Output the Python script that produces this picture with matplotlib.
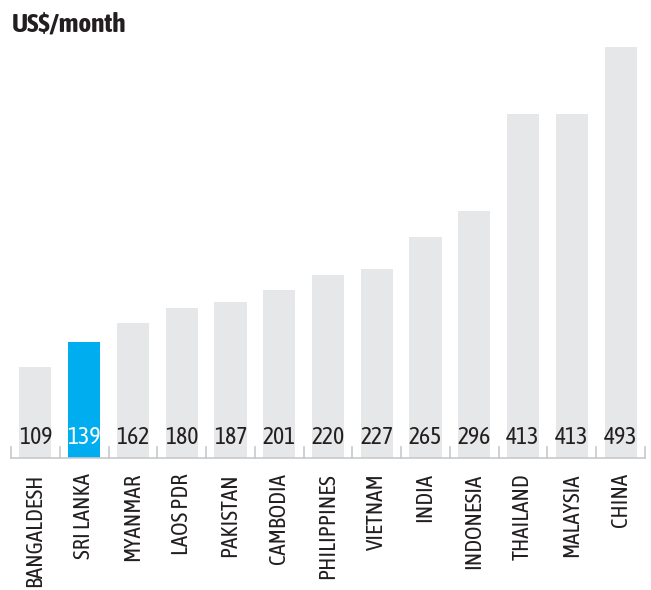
import matplotlib
matplotlib.use("Agg")
import matplotlib.pyplot as plt
import numpy as np

countries = ["BANGALDESH", "SRI LANKA", "MYANMAR", "LAOS PDR", "PAKISTAN", "CAMBODIA",
             "PHILIPPINES", "VIETNAM", "INDIA", "INDONESIA", "THAILAND", "MALAYSIA", "CHINA"]
values = [109, 139, 162, 180, 187, 201, 220, 227, 265, 296, 413, 413, 493]
highlight = "SRI LANKA"

FONT = ['Asap Condensed', 'DejaVu Sans']
plt.rcParams['font.family'] = FONT

fig = plt.figure(figsize=(6.51, 5.9), dpi=100)
ax = fig.add_axes([11/651, (590-458)/590, (645-11)/651, (458-47)/590])

x = np.arange(len(countries))
colors = ["#00aeef" if c == highlight else "#e6e7e8" for c in countries]
ax.bar(x, values, width=0.66, color=colors, zorder=2)

ax.set_xlim(-0.5, len(countries) - 0.5)
ax.set_ylim(0, max(values))

for xi, v, c in zip(x, values, countries):
    ax.text(xi, 25, str(v), ha="center", va="center", fontsize=17,
            color="white" if c == highlight else "#231f20", zorder=3)

for s in ["top", "right", "left"]:
    ax.spines[s].set_visible(False)
ax.spines["bottom"].set_color("#c8c9cb")
ax.spines["bottom"].set_linewidth(1.2)
ax.set_yticks([])
ax.set_xticks(x)
ax.set_xticklabels(countries, rotation=90, fontsize=16.5, color="#231f20")
ax.tick_params(axis="x", length=0, pad=11)

for b in np.arange(-0.5, len(countries) + 0.5, 1.0):
    ax.plot([b, b], [0, 13], color="#c8c9cb", lw=1.2, zorder=1, clip_on=False)

fig.text(12/651, 1 - 24/590, "US$/month", fontsize=19.5, fontweight="bold",
         color="#231f20", ha="left", va="center")

fig.savefig("out.png", dpi=100)
